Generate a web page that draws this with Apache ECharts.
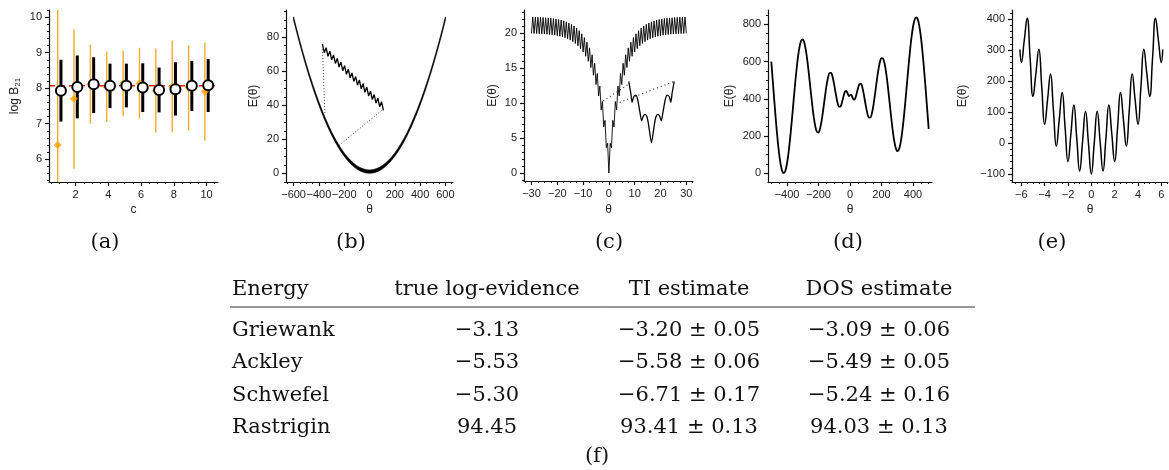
<!DOCTYPE html>
<html>
<head>
<meta charset="utf-8">
<script src="https://cdn.jsdelivr.net/npm/echarts@6/dist/echarts.min.js"></script>
<style>
  html, body { margin: 0; padding: 0; background: #fff; }
  #chart { width: 1169px; height: 470px; }
</style>
</head>
<body>
<div id="chart"></div>
<script>
// (a) log Bayes factor vs c
const cVals = [1, 2, 3, 4, 5, 6, 7, 8, 9, 10];
const blackMean = [7.93, 8.03, 8.11, 8.07, 8.07, 8.02, 7.95, 7.97, 8.07, 8.08];
const blackLo = [7.06, 7.15, 7.30, 7.44, 7.46, 7.33, 7.32, 7.23, 7.36, 7.33];
const blackHi = [8.80, 8.92, 8.87, 8.69, 8.69, 8.70, 8.58, 8.73, 8.77, 8.82];
const orangeMean = [6.40, 7.70, 8.11, 8.03, 8.14, 8.14, 7.93, 8.05, 8.02, 7.91];
const orangeLo = [5.36, 5.73, 7.00, 7.05, 7.21, 7.15, 6.75, 6.76, 6.81, 6.52];
const orangeHi = [10.2, 9.66, 9.22, 9.03, 9.06, 9.14, 9.11, 9.34, 9.21, 9.28];
const refLine = 8.07;

// (b) Griewank: lower and upper edge of the dense band
const griewankTheta = [-600,-575,-550,-525,-500,-475,-450,-425,-400,-375,-350,-325,-300,-275,-250,-225,-200,-175,-150,-125,-100,-75,-50,-25,
  0,25,50,75,100,125,150,175,200,225,250,275,300,325,350,375,400,425,450,475,500,525,550,575,600];
const griewankLow = [90,82.66,75.63,68.91,62.5,56.41,50.63,45.16,40,35.16,30.63,26.41,22.5,18.91,15.63,12.66,10,7.66,5.63,3.91,2.5,1.41,0.63,0.16,
  0,0.16,0.63,1.41,2.5,3.91,5.63,7.66,10,12.66,15.63,18.91,22.5,26.41,30.63,35.16,40,45.16,50.63,56.41,62.5,68.91,75.63,82.66,90];
const griewankHigh = [92,84.66,77.63,70.91,64.5,58.41,52.63,47.16,42,37.16,32.63,28.41,24.5,20.91,17.63,14.66,12,9.66,7.63,5.91,4.5,3.41,2.63,2.16,
  2,2.16,2.63,3.41,4.5,5.91,7.63,9.66,12,14.66,17.63,20.91,24.5,28.41,32.63,37.16,42,47.16,52.63,58.41,64.5,70.91,77.63,84.66,92];
const griewankInset = [
  [-372,76.0],[-357.4,70.9],[-342.8,73.9],[-328.2,68.8],[-313.6,71.8],[-299,66.7],[-284.4,69.6],
  [-269.8,64.6],[-255.2,67.5],[-240.6,62.5],[-226,65.4],[-211.4,60.3],[-196.8,63.3],[-182.2,58.2],
  [-167.6,61.2],[-153,56.1],[-138.4,59.0],[-123.8,54.0],[-109.2,56.9],[-94.6,51.9],[-80,54.8],
  [-65.4,49.7],[-50.8,52.7],[-36.2,47.6],[-21.6,50.6],[-7,45.5],[7.6,48.4],[22.2,43.4],
  [36.8,46.3],[51.4,41.3],[66,44.2],[80.6,39.1],[95.2,42.1],[109.8,37.0]
];
const griewankDots1 = [[-372,73],[-352,35]];
const griewankDots2 = [[114,38],[-240,16.5]];

// (c) Ackley
const ackleyPts = [
  [-30,19.95],[-29.5,22.3],[-29,19.94],[-28.5,22.28],[-28,19.93],[-27.5,22.27],[-27,19.91],[-26.5,22.25],
  [-26,19.89],[-25.5,22.23],[-25,19.87],[-24.5,22.2],[-24,19.84],[-23.5,22.17],[-23,19.8],[-22.5,22.13],
  [-22,19.75],[-21.5,22.08],[-21,19.7],[-20.5,22.02],[-20,19.63],[-19.5,21.95],[-19,19.55],[-18.5,21.86],
  [-18,19.45],[-17.5,21.75],[-17,19.33],[-16.5,21.61],[-16,19.19],[-15.5,21.45],[-15,19.0],[-14.5,21.25],
  [-14,18.78],[-13.5,21.01],[-13,18.52],[-12.5,20.71],[-12,18.19],[-11.5,20.34],[-11,17.78],[-10.5,19.9],
  [-10,17.29],[-9.5,19.36],[-9,16.69],[-8.5,18.7],[-8,15.96],[-7.5,17.89],[-7,15.07],[-6.5,16.9],
  [-6,13.98],[-5.5,15.69],[-5,12.64],[-4.5,14.22],[-4,11.01],[-3.5,12.42],[-3,9.02],[-2.5,10.22],
  [-2,6.59],[-1.5,7.53],[-1,3.63],[-0.5,4.25],[0,0],
  [0.5,4.25],[1,3.63],[1.5,7.53],[2,6.59],[2.5,10.22],[3,9.02],[3.5,12.42],[4,11.01],
  [4.5,14.22],[5,12.64],[5.5,15.69],[6,13.98],[6.5,16.9],[7,15.07],[7.5,17.89],[8,15.96],
  [8.5,18.7],[9,16.69],[9.5,19.36],[10,17.29],[10.5,19.9],[11,17.78],[11.5,20.34],[12,18.19],
  [12.5,20.71],[13,18.52],[13.5,21.01],[14,18.78],[14.5,21.25],[15,19.0],[15.5,21.45],[16,19.19],
  [16.5,21.61],[17,19.33],[17.5,21.75],[18,19.45],[18.5,21.86],[19,19.55],[19.5,21.95],[20,19.63],
  [20.5,22.02],[21,19.7],[21.5,22.08],[22,19.75],[22.5,22.13],[23,19.8],[23.5,22.17],[24,19.84],
  [24.5,22.2],[25,19.87],[25.5,22.23],[26,19.89],[26.5,22.25],[27,19.91],[27.5,22.27],[28,19.93],
  [28.5,22.28],[29,19.94],[29.5,22.3],[30,19.95]
];
const ackleyInset = [
  [7.7,13.1],[8.5,11.4],[9.0,10.1],[9.6,10.9],[10.4,11.14],[11.2,10.43],[12.0,8.76],[12.7,7.47],
  [13.4,8.19],[14.05,8.38],[14.75,8.04],[15.3,7.1],[16.5,4.33],[17.7,7.1],[18.25,8.04],[18.95,8.38],
  [19.6,8.19],[20.3,7.47],[21.0,8.76],[21.8,10.43],[22.6,11.14],[23.4,10.9],[24.0,10.1],[24.5,11.4],[25.3,13.1]
];
const ackleyDots1 = [[-2.2,10.3],[7.7,12.7]];
const ackleyDots2 = [[4.2,10.1],[25.3,13.1]];

// (d) Schwefel
const schwefelPts = [
  [-500,600.0],[-490,489.5],[-480,379.3],[-470,274.2],[-460,181.2],[-450,103.1],[-440,45.0],[-430,10.0],
  [-420,0.2],[-410,15.1],[-400,53.8],[-390,114.0],[-380,191.0],[-370,279.9],[-360,374.3],[-350,468.7],
  [-340,554.3],[-330,627.5],[-320,681.4],[-310,712.2],[-300,718.8],[-290,700.0],[-280,658.7],[-270,598.3],
  [-260,524.0],[-250,444.7],[-240,367.6],[-230,300.3],[-220,250.0],[-210,222.0],[-200,219.0],[-190,240.8],
  [-180,283.8],[-170,341.6],[-160,405.7],[-150,466.4],[-140,512.9],[-130,538.3],[-120,538.9],[-110,515.1],
  [-100,473.4],[-90,424.6],[-80,382.1],[-70,358.0],[-60,359.3],[-50,383.5],[-40,417.3],[-35,431.5],
  [-30,440.6],[-25,443.0],[-20,438.4],[-15,429.0],[-10,419.2],[-5,415.0],[0,419.0],[5,422.9],
  [10,418.8],[15,408.9],[20,399.5],[25,395.0],[30,397.4],[35,406.5],[40,420.6],[50,454.4],
  [60,478.6],[70,479.9],[80,455.9],[90,413.4],[100,364.6],[110,322.8],[120,299.1],[130,299.6],
  [140,325.0],[150,371.6],[160,432.2],[170,496.3],[180,554.2],[190,597.2],[200,619.0],[210,616.0],
  [220,588.0],[230,537.7],[240,470.4],[250,393.2],[260,313.9],[270,239.7],[280,179.3],[290,138.0],
  [300,119.2],[310,125.7],[320,156.6],[330,210.4],[340,283.7],[350,369.3],[360,463.6],[370,558.0],
  [380,647.0],[390,724.0],[400,784.2],[410,822.8],[420,837.7],[430,827.9],[440,793.0],[450,734.9],
  [460,656.8],[470,563.7],[480,458.6],[490,348.4],[500,238.0]
];

// (e) Rastrigin
const rastriginPts = [
  [-6.12,301.6],[-6,260],[-5.75,330.6],[-5.5,402.5],[-5.25,275.6],[-5,150],[-4.75,225.6],[-4.5,302.5],
  [-4.25,180.6],[-4,60],[-3.75,140.6],[-3.5,222.5],[-3.25,105.6],[-3,-10],[-2.75,75.6],[-2.5,162.5],
  [-2.25,50.6],[-2,-60],[-1.75,30.6],[-1.5,122.5],[-1.25,15.6],[-1,-90],[-0.75,5.6],[-0.5,102.5],
  [-0.25,0.6],[0,-100],[0.25,0.6],[0.5,102.5],[0.75,5.6],[1,-90],[1.25,15.6],[1.5,122.5],
  [1.75,30.6],[2,-60],[2.25,50.6],[2.5,162.5],[2.75,75.6],[3,-10],[3.25,105.6],[3.5,222.5],
  [3.75,140.6],[4,60],[4.25,180.6],[4.5,302.5],[4.75,225.6],[5,150],[5.25,275.6],[5.5,402.5],
  [5.75,330.6],[6,260],[6.12,301.6]
];

// tick labels
const aXTicks = [2, 4, 6, 8, 10], aYTicks = [6, 7, 8, 9, 10];
const bXTicks = [-600, -400, -200, 0, 200, 400, 600], bYTicks = [0, 20, 40, 60, 80];
const cXTicks = [-30, -20, -10, 0, 10, 20, 30], cYTicks = [0, 5, 10, 15, 20];
const dXTicks = [-400, -200, 0, 200, 400], dYTicks = [0, 200, 400, 600, 800];
const eXTicks = [-6, -4, -2, 0, 2, 4, 6], eYTicks = [-100, 0, 100, 200, 300, 400];

// table (f)
const tableHeaders = ['Energy', 'true log-evidence', 'TI estimate', 'DOS estimate'];
const energyNames = ['Griewank', 'Ackley', 'Schwefel', 'Rastrigin'];
const trueLogEv = ['\u22123.13', '\u22125.53', '\u22125.30', '94.45'];
const tiEst = ['\u22123.20 \u00b1 0.05', '\u22125.58 \u00b1 0.06', '\u22126.71 \u00b1 0.17', '93.41 \u00b1 0.13'];
const dosEst = ['\u22123.09 \u00b1 0.06', '\u22125.49 \u00b1 0.05', '\u22125.24 \u00b1 0.16', '94.03 \u00b1 0.13'];
const panelLabels = ['(a)', '(b)', '(c)', '(d)', '(e)'];

const axisColor = '#111';
const sansFont = 'Liberation Sans';
const serifFont = '"DejaVu Serif"';

function steps(a, b, d) {
  let out = [];
  for (let v = a; v <= b + d / 1000; v += d) out.push(Math.round(v * 1000) / 1000);
  return out;
}
function minusFmt(v) {
  return String(v).replace('-', '\u2212');
}

// layout of the five plots
const panels = [
  { grid: { left: 49, top: 10, width: 169, height: 172 }, x: [0.37, 10.7], y: [5.36, 10.2],
    xLab: aXTicks, yLab: aYTicks, xMinor: steps(0.5, 10.5, 0.5), yMinor: steps(5.4, 10.2, 0.2),
    xName: 'c', yName: 'log B{s|21}', xGap: 22, yGap: 27 },
  { grid: { left: 286, top: 10, width: 167, height: 172 }, x: [-660, 660], y: [-5.1, 96],
    xLab: bXTicks, yLab: bYTicks, xMinor: steps(-650, 650, 50), yMinor: steps(-5, 95, 5),
    xName: '\u03b8', yName: 'E(\u03b8)', xGap: 22, yGap: 26 },
  { grid: { left: 524, top: 10, width: 169, height: 171 }, x: [-32.9, 32.6], y: [-1.14, 23.3],
    xLab: cXTicks, yLab: cYTicks, xMinor: steps(-32.5, 32.5, 2.5), yMinor: steps(-1, 23, 1),
    xName: '\u03b8', yName: 'E(\u03b8)', xGap: 23, yGap: 25 },
  { grid: { left: 768, top: 10, width: 164, height: 172 }, x: [-521, 521], y: [-47, 877],
    xLab: dXTicks, yLab: dYTicks, xMinor: steps(-500, 500, 50), yMinor: steps(0, 850, 50),
    xName: '\u03b8', yName: 'E(\u03b8)', xGap: 22, yGap: 32 },
  { grid: { left: 1012, top: 10, width: 156, height: 172 }, x: [-6.8, 6.57], y: [-125.8, 429],
    xLab: eXTicks, yLab: eYTicks, xMinor: steps(-6.5, 6.5, 0.5), yMinor: steps(-120, 420, 20),
    xName: '\u03b8', yName: 'E(\u03b8)', xGap: 22, yGap: 43 }
];

let grids = [], xAxes = [], yAxes = [];
panels.forEach((p, i) => {
  grids.push(Object.assign({ outerBoundsMode: 'none', containLabel: false }, p.grid));
  let common = {
    type: 'value', gridIndex: i, z: 5,
    splitLine: { show: false },
    nameLocation: 'middle',
    nameTextStyle: { fontFamily: sansFont, fontSize: 12, color: '#222',
      rich: { s: { fontFamily: sansFont, fontSize: 8, color: '#222', padding: [6, 0, 0, 0] } } }
  };
  let mainLine = { show: true, onZero: false, lineStyle: { color: axisColor, width: 1.2 } };
  let label = { color: '#222', fontSize: 11, fontFamily: sansFont, margin: 7, formatter: minusFmt };
  xAxes.push(Object.assign({}, common, {
    min: p.x[0], max: p.x[1], position: 'bottom', name: p.xName, nameGap: p.xGap,
    axisLine: mainLine,
    axisTick: { show: true, length: 4, customValues: p.xLab, lineStyle: { color: axisColor, width: 1.2 } },
    axisLabel: Object.assign({ customValues: p.xLab }, label)
  }));
  xAxes.push({
    type: 'value', gridIndex: i, z: 5, min: p.x[0], max: p.x[1], position: 'bottom',
    splitLine: { show: false }, axisLine: { show: false, onZero: false },
    axisTick: { show: true, length: 2, customValues: p.xMinor, lineStyle: { color: axisColor, width: 1 } },
    axisLabel: { show: false }
  });
  yAxes.push(Object.assign({}, common, {
    min: p.y[0], max: p.y[1], position: 'left', name: p.yName, nameGap: p.yGap,
    axisLine: mainLine,
    axisTick: { show: true, length: 4, customValues: p.yLab, lineStyle: { color: axisColor, width: 1.2 } },
    axisLabel: Object.assign({ customValues: p.yLab }, label)
  }));
  yAxes.push({
    type: 'value', gridIndex: i, z: 5, min: p.y[0], max: p.y[1], position: 'left', offset: 0,
    splitLine: { show: false }, axisLine: { show: false, onZero: false },
    axisTick: { show: true, length: 2, customValues: p.yMinor, lineStyle: { color: axisColor, width: 1 } },
    axisLabel: { show: false }
  });
});

function errorBar(color, width) {
  return function (params, api) {
    let p1 = api.coord([api.value(0), api.value(1)]);
    let p2 = api.coord([api.value(0), api.value(2)]);
    return { type: 'line', shape: { x1: p1[0], y1: p1[1], x2: p2[0], y2: p2[1] },
      style: { stroke: color, lineWidth: width } };
  };
}

// band of the Griewank curve: upper edge forward, lower edge back
function griewankBand(params, api) {
  let pts = [];
  griewankTheta.forEach((t, i) => pts.push(api.coord([t, griewankHigh[i]])));
  for (let i = griewankTheta.length - 1; i >= 0; i--) pts.push(api.coord([griewankTheta[i], griewankLow[i]]));
  return { type: 'polygon', shape: { points: pts }, style: { fill: '#000', stroke: '#000', lineWidth: 0.6 } };
}

function plainLine(panel, data, width, extra) {
  return Object.assign({
    type: 'line', xAxisIndex: panel * 2, yAxisIndex: panel * 2, data: data,
    symbol: 'none', silent: true, animation: false,
    lineStyle: { color: '#000', width: width }
  }, extra || {});
}

const aRange = panels[0].x;
const series = [
  // (a)
  plainLine(0, [[aRange[0], refLine], [aRange[1], refLine]], 1.4,
    { z: 1, lineStyle: { color: '#ff1a1a', type: [6, 4], width: 1.4 } }),
  { type: 'custom', xAxisIndex: 0, yAxisIndex: 0, z: 2, animation: false, silent: true,
    encode: { x: 0, y: [1, 2] },
    data: cVals.map((c, i) => [c - 0.1, orangeLo[i], orangeHi[i]]),
    renderItem: errorBar('#f6ab2c', 1.4) },
  { type: 'custom', xAxisIndex: 0, yAxisIndex: 0, z: 3, animation: false, silent: true,
    encode: { x: 0, y: [1, 2] },
    data: cVals.map((c, i) => [c + 0.1, blackLo[i], blackHi[i]]),
    renderItem: errorBar('#000', 3) },
  { type: 'scatter', xAxisIndex: 0, yAxisIndex: 0, z: 4, symbol: 'diamond', symbolSize: 8, silent: true,
    animation: false, itemStyle: { color: '#ffa000' },
    data: cVals.map((c, i) => [c - 0.1, orangeMean[i]]) },
  { type: 'scatter', xAxisIndex: 0, yAxisIndex: 0, z: 4, symbol: 'circle', symbolSize: 10, silent: true,
    animation: false, itemStyle: { color: '#fff', borderColor: '#000', borderWidth: 2, opacity: 1 },
    data: cVals.map((c, i) => [c + 0.1, blackMean[i]]) },
  // (b)
  { type: 'custom', xAxisIndex: 2, yAxisIndex: 2, z: 2, animation: false, silent: true,
    data: [[0, 0]], renderItem: griewankBand },
  plainLine(1, griewankInset, 1.3, { z: 3 }),
  plainLine(1, griewankDots1, 1, { z: 3, lineStyle: { color: '#444', width: 1, type: [1, 2] } }),
  plainLine(1, griewankDots2, 1, { z: 3, lineStyle: { color: '#444', width: 1, type: [1, 2] } }),
  // (c)
  plainLine(2, ackleyPts, 0.9),
  plainLine(2, ackleyInset, 1.3, { smooth: 0.2 }),
  plainLine(2, ackleyDots1, 1, { lineStyle: { color: '#333', width: 1.2, type: [1, 3] } }),
  plainLine(2, ackleyDots2, 1, { lineStyle: { color: '#333', width: 1.2, type: [1, 3] } }),
  // (d)
  plainLine(3, schwefelPts, 1.8, { smooth: 0.3 }),
  // (e)
  plainLine(4, rastriginPts, 1.5, { smooth: 0.5 })
];

// table and sub-figure labels
function txt(text, x, y, align) {
  return { type: 'text', x: x, y: y, silent: true,
    style: { text: text, font: '21px ' + serifFont, fill: '#111',
      align: align, verticalAlign: 'middle', textAlign: align, textVerticalAlign: 'middle' } };
}
const colX = [232, 487, 689, 879];
const headerY = 290;
const rowY = [331, 363, 396, 428];
let graphics = [];
panelLabels.forEach((l, i) => graphics.push(txt(l, [105, 351, 609, 848, 1052][i], 243, 'center')));
graphics.push(txt('(f)', 597, 457, 'center'));
tableHeaders.forEach((h, i) => graphics.push(txt(h, colX[i], headerY, i === 0 ? 'left' : 'center')));
graphics.push({ type: 'line', silent: true, shape: { x1: 230, y1: 307, x2: 975, y2: 307 },
  style: { stroke: '#333', lineWidth: 1 } });
energyNames.forEach((n, r) => {
  graphics.push(txt(n, colX[0], rowY[r], 'left'));
  graphics.push(txt(trueLogEv[r], colX[1], rowY[r], 'center'));
  graphics.push(txt(tiEst[r], colX[2], rowY[r], 'center'));
  graphics.push(txt(dosEst[r], colX[3], rowY[r], 'center'));
});

const chart = echarts.init(document.getElementById('chart'), null, { renderer: 'canvas' });
chart.setOption({
  backgroundColor: '#fff',
  animation: false,
  grid: grids,
  xAxis: xAxes,
  yAxis: yAxes,
  series: series,
  graphic: graphics
});
</script>
</body>
</html>
